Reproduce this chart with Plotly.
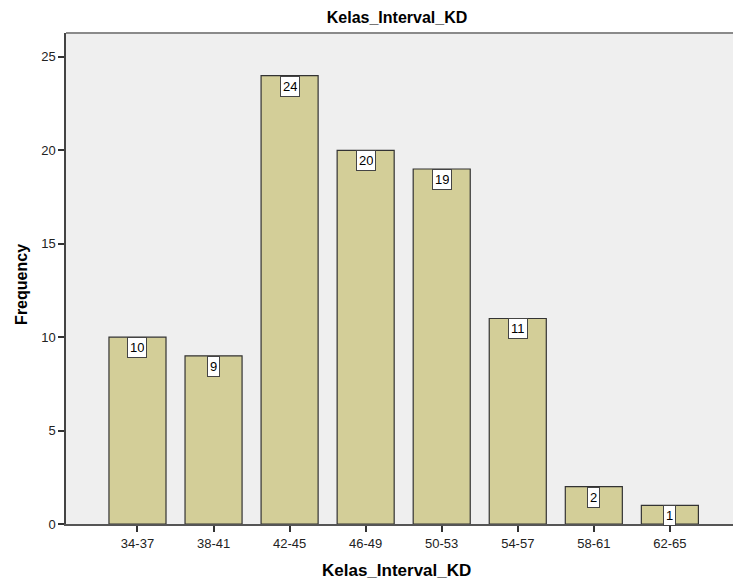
import plotly.graph_objects as go

categories = ["34-37", "38-41", "42-45", "46-49", "50-53", "54-57", "58-61", "62-65"]
frequencies = [10, 9, 24, 20, 19, 11, 2, 1]
y_ticks = [0, 5, 10, 15, 20, 25]

fig = go.Figure()
fig.add_trace(go.Bar(
    x=list(range(len(categories))), y=frequencies,
    width=0.75,
    marker=dict(color="#D3CE98", line=dict(color="#333333", width=1.2)),
    hoverinfo="skip",
))

for i, v in enumerate(frequencies):
    fig.add_annotation(
        x=i, y=v, xref="x", yref="y", text=str(v),
        showarrow=False, yanchor="top", xanchor="center", yshift=0,
        font=dict(family="Liberation Sans, Arial", size=13, color="black"),
        bgcolor="white", bordercolor="#444444", borderwidth=1, borderpad=2, height=15,
    )

fig.add_shape(type="line", xref="paper", yref="paper", x0=0, x1=1, y0=1, y1=1,
              line=dict(color="#8a8a8a", width=2))

# axis titles
fig.add_annotation(xref="paper", yref="paper", x=0.496, y=0, yshift=-46,
                   xanchor="center", yanchor="middle", showarrow=False,
                   text="<b>Kelas_Interval_KD</b>", font=dict(size=17, color="black"))
fig.add_annotation(xref="paper", yref="paper", x=0, xshift=-44, y=0.487,
                   xanchor="center", yanchor="middle", showarrow=False, textangle=-90,
                   text="<b>Frequency</b>", font=dict(size=16, color="black"))

fig.update_layout(
    width=733, height=583,
    margin=dict(l=66, r=0, t=33, b=59, autoexpand=False),
    paper_bgcolor="white", plot_bgcolor="#EFEFEF",
    showlegend=False,
    font=dict(family="Liberation Sans, Arial", size=13, color="#222222"),
    title=dict(text="<b>Kelas_Interval_KD</b>", x=0.5416, xanchor="center", y=0.971, yanchor="middle",
               font=dict(size=16, color="black")),
    xaxis=dict(
        range=[-0.94, 7.83], tickmode="array", tickvals=list(range(len(categories))),
        ticktext=categories, ticks="outside", ticklen=6, tickcolor="#333333", tickwidth=1.5,
        showline=True, linecolor="#555555", linewidth=2, showgrid=False, zeroline=False,
        tickfont=dict(size=13, color="#222222"),
    ),
    yaxis=dict(
        range=[0, 26.28], tickmode="array", tickvals=y_ticks, ticks="outside", ticklen=6,
        tickcolor="#333333", tickwidth=1.5, showline=True, linecolor="#444444", linewidth=1.5,
        showgrid=False, zeroline=False, tickfont=dict(size=13, color="#222222"),
    ),
)

fig.write_html("out.html", config={"displayModeBar": False},
               post_script="document.body.style.margin='0';document.body.style.overflow='hidden';")
